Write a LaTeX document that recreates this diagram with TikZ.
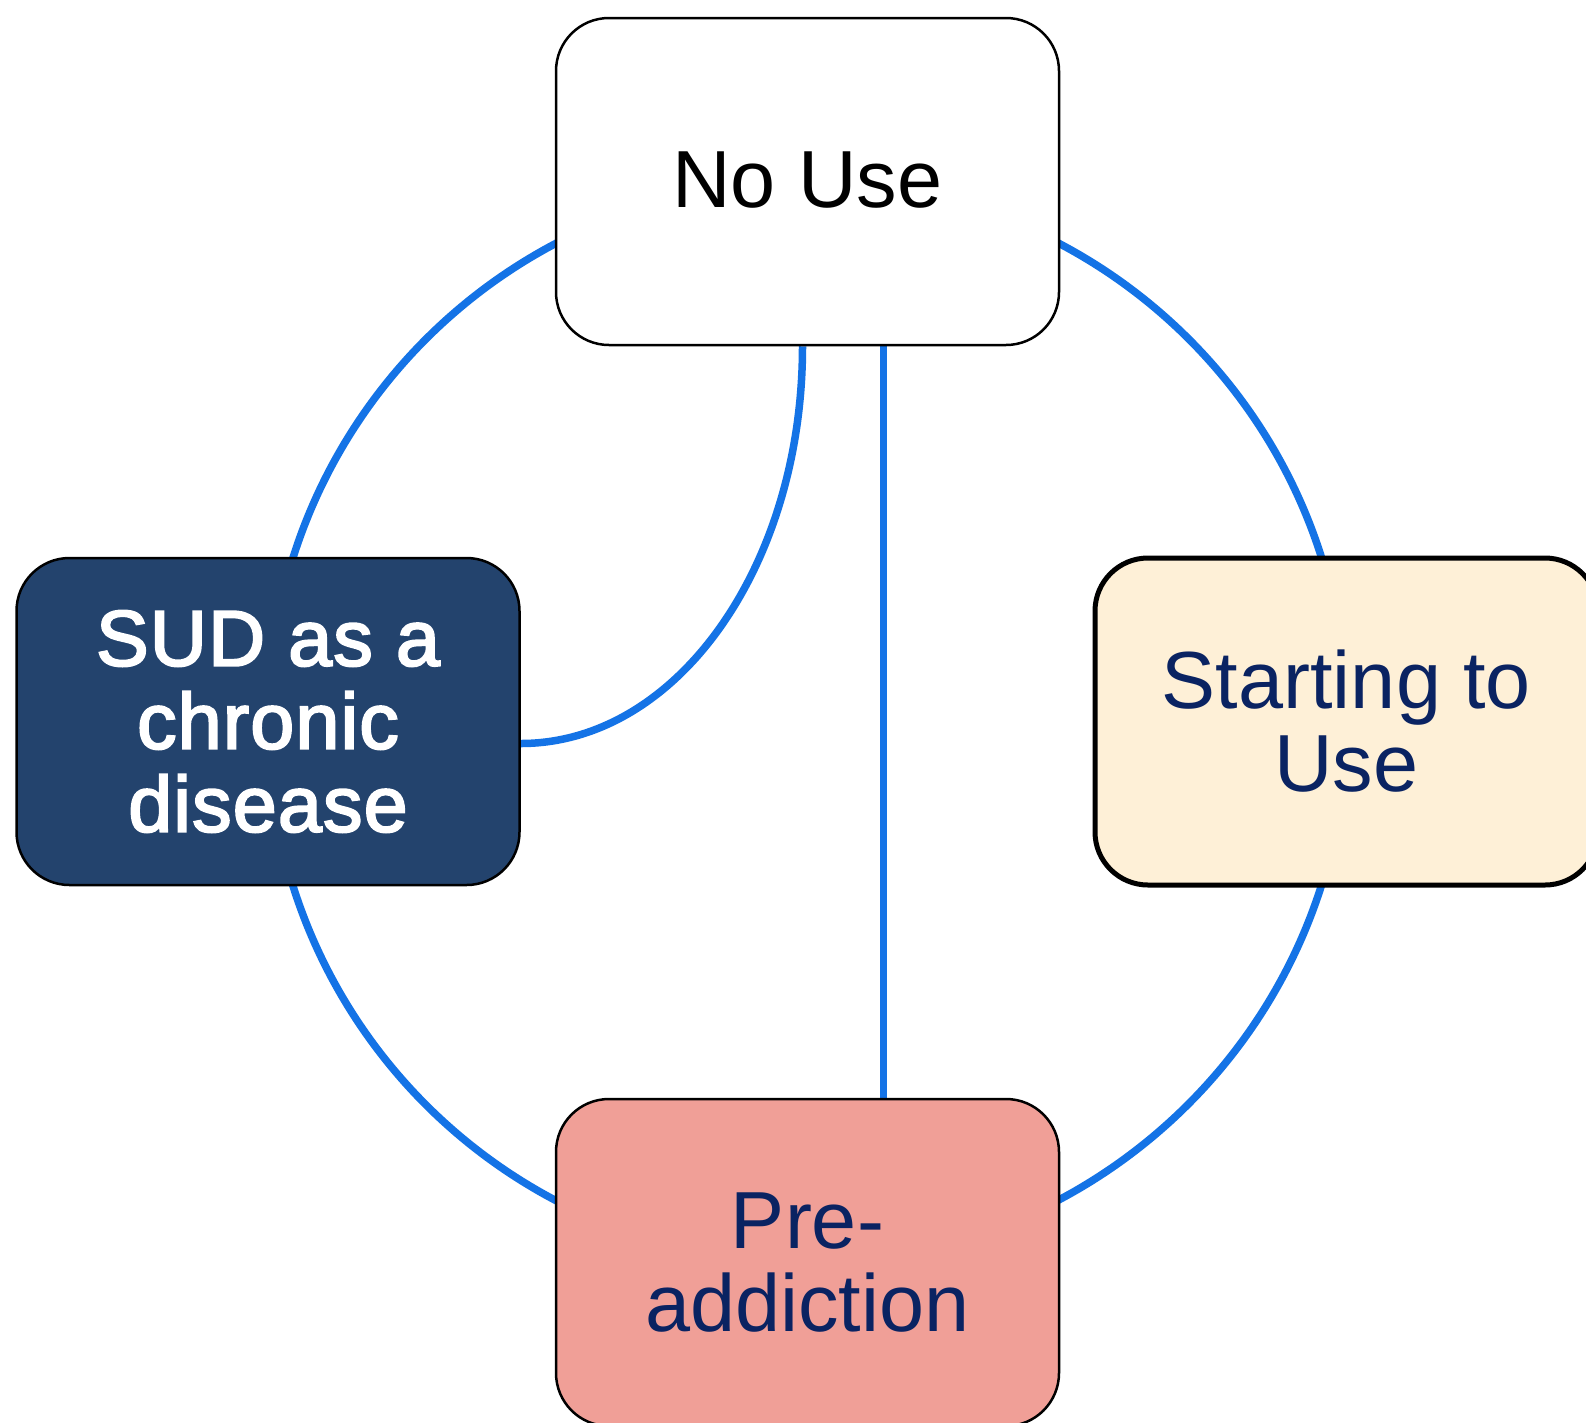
\documentclass[tikz,border=0pt]{standalone}
\usepackage{fontspec}
\setmainfont{Liberation Sans}
\newfontfamily\heavysans[FakeBold=2.6,LetterSpace=1.5]{Liberation Sans}
\usetikzlibrary{calc,backgrounds}
\definecolor{linkblue}{HTML}{1473E6}
\definecolor{navytext}{HTML}{0A2362}
\definecolor{sudblue}{HTML}{23436D}
\definecolor{cream}{HTML}{FEF0D7}
\definecolor{salmon}{HTML}{F09F97}
\begin{document}
\begin{tikzpicture}[x=1pt,y=1pt,
  stage/.style={draw=black, line width=2.5pt, rounded corners=53pt,
    minimum width=503pt, minimum height=327pt, inner sep=0pt,
    align=center, text=navytext, font=\fontsize{81}{83}\selectfont},
  link/.style={draw=linkblue, line width=7.5pt}]
\useasboundingbox (0,0) rectangle (1586,-1422);

% the four stages
\node[stage, fill=white, text=black, text depth=3pt] (nouse) at (807.5,-181.5) {No Use};
\node[stage, fill=sudblue, text=white, font=\fontsize{79}{83}\heavysans]
  (sud) at (268,-721.5) {SUD as a\\chronic\\disease};
\node[stage, fill=cream, line width=5pt] (start) at (1346.5,-721.5) {Starting to\\Use};
\node[stage, fill=salmon] (preadd) at (807.5,-1262.5) {Pre-\\addiction};

\begin{scope}[on background layer]
  \fill[white] (0,0) rectangle (1586,-1422);
  % ring through the four stages
  \draw[link] (nouse.center) to[bend right=45] (sud.center);
  \draw[link] (sud.center) to[bend right=45] (preadd.center);
  \draw[link] (preadd.center) to[bend right=45] (start.center);
  \draw[link] (start.center) to[bend right=45] (nouse.center);
  % inner links
  \draw[link] ($(nouse.south)+(-5,0)$) .. controls +(0,-220) and +(156,0) .. ($(sud.east)+(0,-22)$);
  \draw[link] ($(nouse.south)+(76,0)$) -- ($(preadd.north)+(76,0)$);
\end{scope}
\end{tikzpicture}
\end{document}
